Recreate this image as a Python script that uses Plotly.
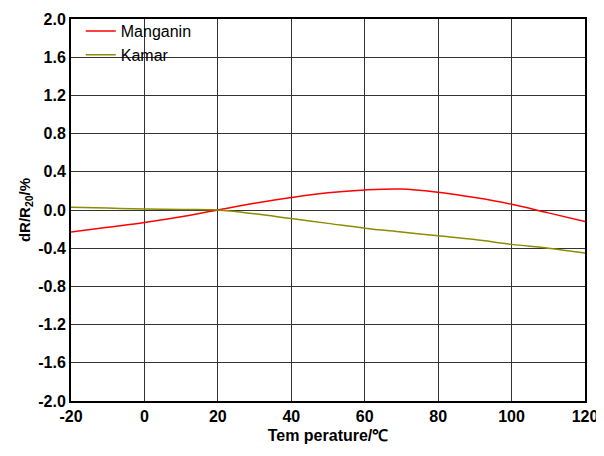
import plotly.graph_objects as go

temperature = [-20, -10, 0, 10, 20, 30, 40, 50, 60, 70, 80, 90, 100, 110, 120]
manganin = [-0.23, -0.18, -0.13, -0.07, 0.0, 0.07, 0.13, 0.18, 0.21, 0.22, 0.185, 0.13, 0.06, -0.03, -0.12]
kamar = [0.03, 0.02, 0.01, 0.005, 0.0, -0.04, -0.09, -0.14, -0.19, -0.23, -0.27, -0.31, -0.36, -0.40, -0.45]

x_ticks = [-20, 0, 20, 40, 60, 80, 100, 120]
x_labels = ["-20", "0", "20", "40", "60", "80", "100", "120"]
y_ticks = [-2.0, -1.6, -1.2, -0.8, -0.4, 0.0, 0.4, 0.8, 1.2, 1.6, 2.0]
y_labels = ["-2.0", "-1.6", "-1.2", "-0.8", "-0.4", "0.0", "0.4", "0.8", "1.2", "1.6", "2.0"]

fig = go.Figure()
fig.add_trace(go.Scatter(x=temperature, y=manganin, mode="lines", name="Manganin",
                         line=dict(color="#ff0000", width=1.5, shape="spline")))
fig.add_trace(go.Scatter(x=temperature, y=kamar, mode="lines", name="Kamar",
                         line=dict(color="#8c8c00", width=1.5, shape="spline")))

font_main = "Liberation Sans, Arial, sans-serif"
# page body has an 8px default margin, so the figure is sized to fit the window
fig.update_layout(
    width=596, height=436,
    margin=dict(l=63, r=19, t=11, b=43, autoexpand=False),
    paper_bgcolor="white", plot_bgcolor="white",
    showlegend=True,
    legend=dict(x=0.019, y=1.013, xanchor="left", yanchor="top",
                bgcolor="rgba(0,0,0,0)", borderwidth=0,
                font=dict(family=font_main, size=16, color="black"),
                tracegroupgap=0),
    xaxis=dict(range=[-20, 120], tickvals=x_ticks, ticktext=x_labels,
               showgrid=True, gridcolor="#333333", gridwidth=1,
               showline=True, linecolor="black", linewidth=2, mirror=True,
               ticks="", zeroline=False, automargin=False,
               ticklabeloverflow="allow",
               tickfont=dict(family=font_main, size=16, color="black", weight="bold"),
               title=dict(text="Tem perature/℃", standoff=10,
                          font=dict(family=font_main, size=16, color="black", weight="bold"))),
    yaxis=dict(range=[-2.0, 2.0], tickvals=y_ticks, ticktext=y_labels,
               showgrid=True, gridcolor="#333333", gridwidth=1,
               showline=True, linecolor="black", linewidth=2, mirror=True,
               ticks="", zeroline=False, automargin=False,
               tickfont=dict(family=font_main, size=16, color="black", weight="bold"),
               title=dict(text="dR/R<sub>20</sub>/%", standoff=4,
                          font=dict(family=font_main, size=15, color="black", weight="bold"))),
)

fig.write_html("out.html")
